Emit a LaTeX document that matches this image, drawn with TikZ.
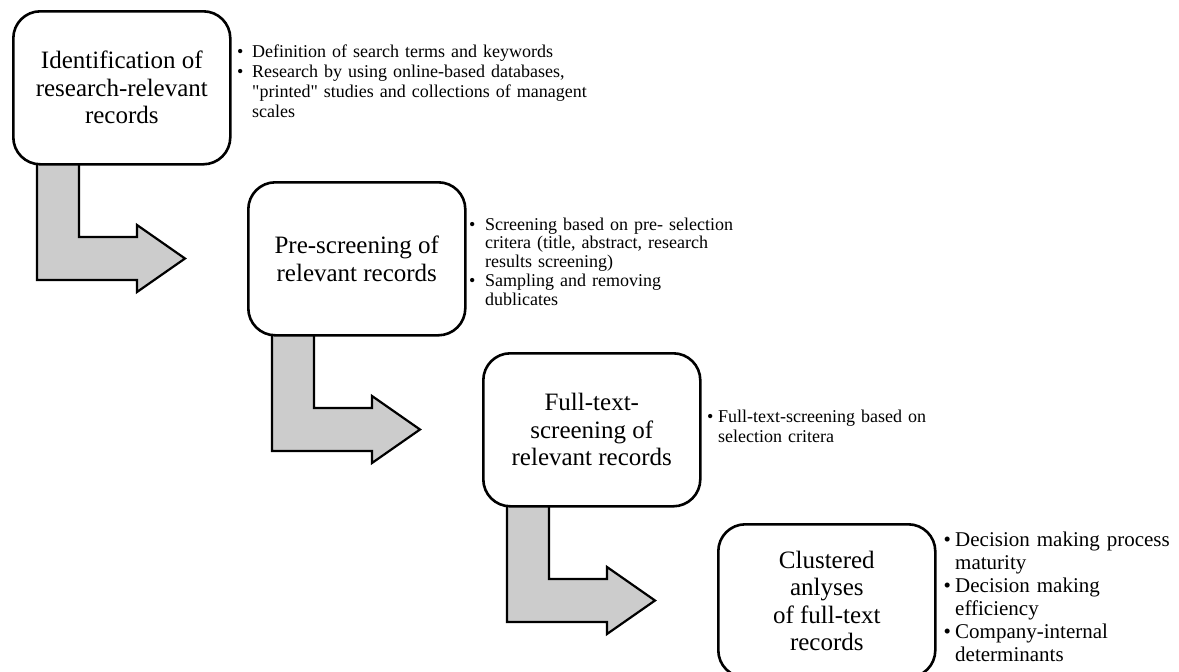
\documentclass[tikz,border=0pt]{standalone}
\usepackage{fontspec}
\setmainfont{Liberation Serif}[Ligatures=TeXOff]
\usetikzlibrary{calc,backgrounds}

% one bullet item with a hanging indent: #1 = indent, #2 = text
\newcommand{\bitem}[2]{\par\noindent\hangindent=#1\hangafter=1\makebox[#1][l]{\strut\textbullet}#2}

% bent block arrow hanging below a stage box
\newcommand{\bentarrow}[1]{%
  \draw[flowarrow]
    ($(#1.north west)+(25,140)$) -- ($(#1.north west)+(67,140)$)
    -- ($(#1.north west)+(67,227)$) -- ($(#1.north west)+(125,227)$)
    -- ($(#1.north west)+(125,215)$) -- ($(#1.north west)+(173,248.5)$)
    -- ($(#1.north west)+(125,282)$) -- ($(#1.north west)+(125,270)$)
    -- ($(#1.north west)+(25,270)$) -- cycle;}

\tikzset{
  stage/.style={draw=black, line width=2.6pt, rounded corners=27pt, fill=white,
    minimum width=217pt, minimum height=153pt, inner sep=0pt, anchor=north west,
    align=center, font=\fontsize{25}{27.5}\selectfont},
  flowarrow/.style={draw=black, line width=2.2pt, fill=black!20, line join=miter},
  notes/.style={anchor=north west, inner sep=0pt, align=left}
}

\begin{document}
\begin{tikzpicture}[x=1pt, y=-1pt]
\useasboundingbox (0,0) rectangle (1179,672);

% stages
\node[stage] (b1) at (12,10)   {Identification of\\research-relevant\\records};
\node[stage] (b2) at (247,181) {Pre-screening of\\relevant records};
\node[stage] (b3) at (482,352) {Full-text-\\screening of\\relevant records};
\node[stage] (b4) at (717,523) {Clustered\\anlyses\\of full-text\\records};

% arrows between stages, behind the boxes
\begin{pgfonlayer}{background}
  \bentarrow{b1}
  \bentarrow{b2}
  \bentarrow{b3}
\end{pgfonlayer}

% notes beside each stage
\node[notes, text width=360pt, font=\fontsize{18}{20}\selectfont] (n1) at (237,37.5)
  {\parskip=0pt\hyphenpenalty=10000
   \bitem{15pt}{Definition of search terms and keywords}
   \bitem{15pt}{Research by using online-based databases,\newline
     "printed" studies and collections of managent\newline scales}\par};

\node[notes, text width=300pt, font=\fontsize{18}{18.3}\selectfont] (n2) at (469,210.5)
  {\parskip=1.5pt\hyphenpenalty=10000
   \bitem{16pt}{Screening based on pre- selection\newline
     critera (title, abstract, research\newline results screening)}
   \bitem{16pt}{Sampling and removing\newline dublicates}\par};

\node[notes, text width=300pt, font=\fontsize{18}{19.5}\selectfont] (n3) at (707,403)
  {\parskip=0pt\hyphenpenalty=10000
   \bitem{11pt}{Full-text-screening based on\newline selection critera}\par};

\node[notes, text width=240pt, font=\fontsize{21}{23}\selectfont] (n4) at (943.5,523)
  {\parskip=0pt\hyphenpenalty=10000
   \bitem{11.5pt}{Decision making process\newline maturity}
   \bitem{11.5pt}{Decision making\newline efficiency}
   \bitem{11.5pt}{Company-internal\newline determinants}\par};
\end{tikzpicture}
\end{document}
